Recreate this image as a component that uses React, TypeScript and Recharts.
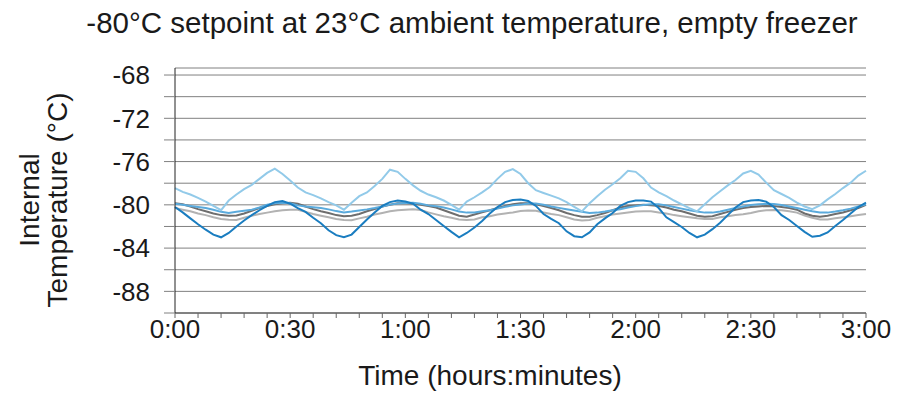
import { LineChart, Line, XAxis, YAxis, CartesianGrid } from 'recharts';

// elapsed time in minutes, sampled every 2 min
const minutes = [
  0, 2, 4, 6, 8, 10, 12, 14, 16, 18,
  20, 22, 24, 26, 28, 30, 32, 34, 36, 38,
  40, 42, 44, 46, 48, 50, 52, 54, 56, 58,
  60, 62, 64, 66, 68, 70, 72, 74, 76, 78,
  80, 82, 84, 86, 88, 90, 92, 94, 96, 98,
  100, 102, 104, 106, 108, 110, 112, 114, 116, 118,
  120, 122, 124, 126, 128, 130, 132, 134, 136, 138,
  140, 142, 144, 146, 148, 150, 152, 154, 156, 158,
  160, 162, 164, 166, 168, 170, 172, 174, 176, 178,
  180,
];

const lightBlue = [
  -78.45, -78.8, -79.05, -79.35, -79.7, -80.1, -80.5, -79.6, -79.05, -78.55,
  -78.15, -77.6, -77.05, -76.65, -77.15, -77.75, -78.4, -78.85, -79.1, -79.4,
  -79.75, -80.05, -80.45, -79.8, -79.2, -78.85, -78.25, -77.6, -76.75, -76.95,
  -77.6, -78.2, -78.7, -79.05, -79.3, -79.6, -80.0, -80.45, -79.7, -79.3,
  -78.85, -78.35, -77.6, -76.95, -76.7, -77.15, -78.0, -78.65, -78.9, -79.15,
  -79.4, -79.75, -80.2, -80.6, -79.85, -79.2, -78.6, -78.1, -77.55, -76.85,
  -76.95, -77.55, -78.4, -78.85, -79.2, -79.6, -79.95, -80.3, -80.6, -79.95,
  -79.3, -78.75, -78.2, -77.7, -77.1, -76.85, -77.2, -77.95, -78.65, -79.0,
  -79.35, -79.8, -80.15, -80.4, -80.05, -79.5, -79.0, -78.45, -77.95, -77.3,
  -76.85,
];

const darkBlue = [
  -80.2, -80.7, -81.25, -81.8, -82.3, -82.75, -83.0, -82.6, -82.0, -81.45,
  -80.95, -80.5, -80.1, -79.75, -79.65, -79.9, -80.3, -80.65, -81.2, -81.7,
  -82.35, -82.8, -83.0, -82.75, -82.05, -81.35, -80.7, -80.1, -79.75, -79.6,
  -79.7, -79.9, -80.45, -80.85, -81.4, -81.95, -82.5, -83.0, -82.6, -82.1,
  -81.5, -80.8, -80.2, -79.75, -79.55, -79.5, -79.65, -80.1, -80.85, -81.3,
  -81.7, -82.45, -82.9, -83.0, -82.55, -81.8, -81.25, -80.75, -80.1, -79.75,
  -79.6, -79.6, -79.7, -80.3, -81.15, -81.6, -82.05, -82.6, -83.0, -82.75,
  -82.25, -81.65, -80.95, -80.25, -79.75, -79.6, -79.55, -79.7, -80.2, -80.95,
  -81.4, -81.95, -82.5, -82.95, -82.85, -82.55, -81.95, -81.4, -80.8, -80.2,
  -79.8,
];

const midBlue = [
  -79.9, -80.0, -80.1, -80.2, -80.3, -80.45, -80.65, -80.75, -80.65, -80.55,
  -80.45, -80.25, -80.0, -79.85, -79.8, -79.85, -80.05, -80.15, -80.22, -80.3,
  -80.42, -80.58, -80.7, -80.62, -80.52, -80.42, -80.3, -80.15, -79.98, -79.88,
  -79.82, -79.8, -79.9, -80.05, -80.12, -80.25, -80.42, -80.62, -80.72, -80.7,
  -80.6, -80.5, -80.35, -80.18, -80.05, -79.98, -79.88, -79.88, -80.0, -80.15,
  -80.28, -80.4, -80.52, -80.65, -80.75, -80.72, -80.62, -80.5, -80.4, -80.25,
  -80.12, -80.02, -79.95, -79.95, -80.05, -80.2, -80.35, -80.5, -80.62, -80.72,
  -80.72, -80.62, -80.45, -80.3, -80.15, -80.02, -79.95, -79.9, -79.92, -80.02,
  -80.15, -80.3, -80.45, -80.6, -80.7, -80.72, -80.62, -80.5, -80.35, -80.15,
  -79.95,
];

const darkGray = [
  -79.85, -79.95, -80.15, -80.4, -80.6, -80.8, -80.95, -81.0, -80.98, -80.8,
  -80.55, -80.3, -80.1, -79.95, -79.85, -79.8, -79.9, -80.15, -80.4, -80.6,
  -80.75, -80.95, -81.05, -81.0, -80.85, -80.6, -80.4, -80.15, -80.0, -79.85,
  -79.85, -79.88, -80.0, -80.1, -80.25, -80.5, -80.75, -81.0, -81.1, -80.9,
  -80.7, -80.5, -80.3, -80.1, -79.95, -79.85, -79.85, -79.95, -80.1, -80.3,
  -80.5, -80.75, -80.95, -81.1, -81.1, -80.95, -80.75, -80.5, -80.25, -80.1,
  -80.05, -80.0, -80.05, -80.1, -80.25, -80.45, -80.6, -80.8, -81.0, -81.1,
  -81.05, -80.85, -80.65, -80.45, -80.3, -80.2, -80.15, -80.1, -80.12, -80.2,
  -80.3, -80.45, -80.8, -81.0, -81.1, -81.0, -80.85, -80.7, -80.5, -80.3,
  -80.0,
];

const lightGray = [
  -80.3, -80.45, -80.6, -80.8, -80.95, -81.15, -81.3, -81.38, -81.4, -81.2,
  -81.0, -80.85, -80.72, -80.6, -80.5, -80.45, -80.45, -80.65, -80.85, -81.0,
  -81.15, -81.3, -81.4, -81.42, -81.25, -81.1, -80.9, -80.75, -80.6, -80.5,
  -80.45, -80.4, -80.48, -80.7, -80.88, -81.05, -81.2, -81.35, -81.4, -81.35,
  -81.15, -81.05, -80.9, -80.8, -80.7, -80.58, -80.52, -80.55, -80.7, -80.85,
  -80.95, -81.15, -81.35, -81.45, -81.4, -81.2, -81.05, -80.9, -80.8, -80.7,
  -80.62, -80.6, -80.6, -80.7, -80.8, -80.95, -81.05, -81.15, -81.25, -81.3,
  -81.3, -81.15, -81.05, -80.95, -80.88, -80.75, -80.6, -80.5, -80.47, -80.5,
  -80.6, -80.72, -81.0, -81.2, -81.35, -81.35, -81.25, -81.15, -81.05, -80.95,
  -80.85,
];

const xTicks = [
  0, 6, 12, 18, 24, 30, 36, 42, 48, 54, 60, 66, 72, 78, 84, 90,
  96, 102, 108, 114, 120, 126, 132, 138, 144, 150, 156, 162, 168, 174, 180,
];
const xLabelTicks = [0, 30, 60, 90, 120, 150, 180];
const xLabels = ['0:00', '0:30', '1:00', '1:30', '2:00', '2:30', '3:00'];

const yTicks = [-90, -88, -86, -84, -82, -80, -78, -76, -74, -72, -70, -68];
const yLabelTicks = [-88, -84, -80, -76, -72, -68];

const data = minutes.map((t, i) => ({
  t,
  lightBlue: lightBlue[i],
  darkBlue: darkBlue[i],
  midBlue: midBlue[i],
  darkGray: darkGray[i],
  lightGray: lightGray[i],
}));

const FONT = '"Liberation Sans", Arial, Helvetica, sans-serif';
const INK = '#1a1a1a';

const fmtX = (v: number) => {
  const idx = xLabelTicks.indexOf(v);
  return idx >= 0 ? xLabels[idx] : '';
};
const fmtY = (v: number) => (yLabelTicks.includes(v) ? String(v) : '');

export default function App() {
  return (
    <div style={{ position: 'absolute', left: 0, top: 0, width: 900, height: 398, background: '#fff', fontFamily: FONT, color: INK }}>
      <div style={{ position: 'absolute', left: 0, top: 8, width: 944, textAlign: 'center', fontSize: 29.5, lineHeight: 1, whiteSpace: 'nowrap' }}>
        -80°C setpoint at 23°C ambient temperature, empty freezer
      </div>

      <LineChart width={900} height={398} data={data} margin={{ top: 68, right: 34, bottom: 45, left: 0 }}>
        <CartesianGrid vertical={false} stroke="#808080" strokeWidth={1} />
        <XAxis
          dataKey="t"
          type="number"
          domain={[0, 180]}
          ticks={xTicks}
          interval={0}
          height={40}
          tickFormatter={fmtX}
          tickSize={5}
          tickMargin={2}
          axisLine={{ stroke: '#444' }}
          tickLine={{ stroke: '#666' }}
          tick={{ fill: INK, fontSize: 26, fontFamily: FONT }}
        />
        <YAxis
          type="number"
          domain={[-90, -67.35]}
          ticks={yTicks}
          interval={0}
          width={175}
          allowDataOverflow
          tickFormatter={fmtY}
          tickSize={11}
          tickMargin={14}
          axisLine={{ stroke: '#222' }}
          tickLine={{ stroke: '#808080' }}
          tick={{ fill: INK, fontSize: 26, fontFamily: FONT }}
        />
        <Line dataKey="lightGray" stroke="#b2b2b2" strokeWidth={2} dot={false} isAnimationActive={false} />
        <Line dataKey="darkGray" stroke="#6e6e6e" strokeWidth={2} dot={false} isAnimationActive={false} />
        <Line dataKey="midBlue" stroke="#5aaadc" strokeWidth={2} dot={false} isAnimationActive={false} />
        <Line dataKey="darkBlue" stroke="#1a7dc0" strokeWidth={2} dot={false} isAnimationActive={false} />
        <Line dataKey="lightBlue" stroke="#92cae9" strokeWidth={2} dot={false} isAnimationActive={false} />
      </LineChart>

      <div style={{ position: 'absolute', left: 290, top: 362, width: 400, textAlign: 'center', fontSize: 28, lineHeight: 1, whiteSpace: 'nowrap' }}>
        Time (hours:minutes)
      </div>

      <div
        style={{
          position: 'absolute',
          left: 44 - 130,
          top: 200 - 28,
          width: 260,
          height: 56,
          transform: 'rotate(-90deg)',
          textAlign: 'center',
          fontSize: 28,
          lineHeight: '28px',
          whiteSpace: 'nowrap',
        }}
      >
        Internal
        <br />
        Temperature (°C)
      </div>
    </div>
  );
}
